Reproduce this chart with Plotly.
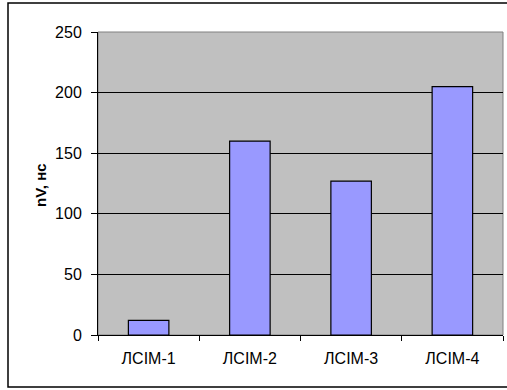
import plotly.graph_objects as go

categories = ["ЛСІМ-1", "ЛСІМ-2", "ЛСІМ-3", "ЛСІМ-4"]
values = [12, 160, 127, 205]
y_ticks = [0, 50, 100, 150, 200, 250]
y_title = "nV, нс"

W, H = 507, 390
L, R, T, B = 98, 4, 32, 55
pw, ph = W - L - R, H - T - B

def px_x(x):
    return (x - L) / pw

def px_y(y):
    return (H - B - y) / ph

fig = go.Figure(go.Bar(
    x=categories, y=values, width=0.4,
    marker=dict(color="#9999FF", line=dict(color="#000000", width=1.2)),
))

fig.update_layout(
    width=W, height=H,
    margin=dict(l=L, r=R, t=T, b=B),
    paper_bgcolor="#FFFFFF",
    plot_bgcolor="#C0C0C0",
    font=dict(family="Liberation Sans, Arial, sans-serif", size=16, color="#000000"),
    showlegend=False,
    bargap=0.6,
)

fig.update_xaxes(
    type="category", tickson="boundaries", ticks="outside", ticklen=5,
    tickcolor="#000000", showline=True, linecolor="#000000", linewidth=1,
    showgrid=False, tickfont=dict(size=16), ticklabelstandoff=9,
)
fig.update_yaxes(
    range=[0, 250], tickvals=y_ticks, ticks="outside", ticklen=6,
    tickcolor="#000000", showline=True, linecolor="#000000", linewidth=1,
    showgrid=True, gridcolor="#000000", gridwidth=1, zeroline=False,
    tickfont=dict(size=16), ticklabelstandoff=6,
)

# Light frame on top/right of the plot area
fig.add_shape(type="rect", xref="paper", yref="paper", x0=0, x1=1, y0=0, y1=1,
              line=dict(color="#808080", width=1), layer="below")

# Outer chart border
fig.add_shape(type="rect", xref="paper", yref="paper",
              x0=px_x(8), x1=px_x(540), y0=px_y(387), y1=px_y(3),
              line=dict(color="#000000", width=1.5))

fig.add_annotation(text="<b>" + y_title + "</b>", xref="paper", yref="paper",
                   x=px_x(40), y=px_y(185), textangle=-90, showarrow=False,
                   font=dict(size=15), xanchor="center", yanchor="middle")

fig.write_html("out.html")
